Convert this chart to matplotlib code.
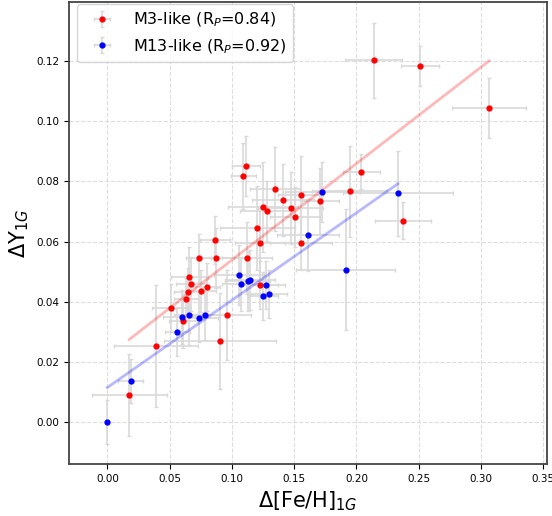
import numpy as np
import matplotlib
matplotlib.use('Agg')
import matplotlib.pyplot as plt

# M3-like clusters: dFe/H, dY, errors
m3_x = [0.2138, 0.2510, 0.3065, 0.2370, 0.2040, 0.1945, 0.1110, 0.1090, 0.1344,
        0.1411, 0.1553, 0.1711, 0.1247, 0.1285, 0.1472, 0.1507, 0.1204, 0.1228,
        0.1556, 0.0866, 0.0735, 0.0869, 0.1121, 0.0657, 0.0668, 0.0802, 0.0751,
        0.0644, 0.0631, 0.0507, 0.0611, 0.0957, 0.0904, 0.0389, 0.0175, 0.1223]
m3_y = [0.1203, 0.1184, 0.1043, 0.0670, 0.0833, 0.0767, 0.0852, 0.0817, 0.0776,
        0.0739, 0.0755, 0.0735, 0.0714, 0.0703, 0.0711, 0.0683, 0.0644, 0.0594,
        0.0594, 0.0604, 0.0544, 0.0544, 0.0544, 0.0483, 0.0458, 0.0449, 0.0437,
        0.0431, 0.0410, 0.0379, 0.0337, 0.0357, 0.0269, 0.0252, 0.0090, 0.0454]
m3_xerr = [0.023, 0.015, 0.0295, 0.0225, 0.0145, 0.030, 0.0113, 0.010, 0.020,
           0.025, 0.018, 0.015, 0.028, 0.022, 0.026, 0.020, 0.030, 0.020,
           0.025, 0.012, 0.010, 0.015, 0.020, 0.015, 0.012, 0.010, 0.012,
           0.011, 0.010, 0.015, 0.012, 0.020, 0.045, 0.0335, 0.030, 0.015]
m3_yerr = [0.0125, 0.0068, 0.0100, 0.0063, 0.0057, 0.0151, 0.0100, 0.0110, 0.0140,
           0.0120, 0.0130, 0.0110, 0.0150, 0.0100, 0.0120, 0.0100, 0.0140, 0.0120,
           0.0090, 0.0080, 0.0080, 0.0100, 0.0120, 0.0100, 0.0090, 0.0080, 0.0070,
           0.0080, 0.0070, 0.0080, 0.0090, 0.0150, 0.0160, 0.0202, 0.0137, 0.0080]

# M13-like clusters
m13_x = [0.0000, 0.0188, 0.0561, 0.0598, 0.0657, 0.0735, 0.0786, 0.1060, 0.1070,
         0.1126, 0.1146, 0.1274, 0.1250, 0.1295, 0.1610, 0.1727, 0.1912, 0.2333]
m13_y = [0.0000, 0.0136, 0.0298, 0.0349, 0.0357, 0.0346, 0.0354, 0.0489, 0.0459,
         0.0468, 0.0473, 0.0455, 0.0419, 0.0426, 0.0621, 0.0766, 0.0507, 0.0760]
m13_xerr = [0.000, 0.010, 0.010, 0.015, 0.012, 0.015, 0.012, 0.020, 0.015,
            0.018, 0.020, 0.015, 0.012, 0.015, 0.025, 0.030, 0.040, 0.0444]
m13_yerr = [0.0074, 0.0072, 0.0080, 0.0090, 0.0100, 0.0080, 0.0080, 0.0100, 0.0090,
            0.0100, 0.0100, 0.0080, 0.0080, 0.0080, 0.0120, 0.0100, 0.0200, 0.0141]

# linear fits (slope, intercept) as drawn
m3_fit = (0.3208, 0.0218)
m13_fit = (0.2906, 0.01144)

fig = plt.figure(figsize=(5.52, 5.16), dpi=100)
ax = fig.add_axes([0.1255, 0.0999, 0.8655, 0.8962])

ax.grid(True, linestyle='--', color='#dddddd', linewidth=0.8)
ax.set_axisbelow(True)

ax.errorbar(m3_x, m3_y, xerr=m3_xerr, yerr=m3_yerr, fmt='o', color='red',
            ms=3.5, ecolor='#d9d9d9', elinewidth=1.2, capsize=1.5,
            label=r'M3-like (R$_P$=0.84)')
ax.errorbar(m13_x, m13_y, xerr=m13_xerr, yerr=m13_yerr, fmt='o', color='blue',
            ms=3.5, ecolor='#d9d9d9', elinewidth=1.2, capsize=1.5,
            label=r'M13-like (R$_P$=0.92)')

xr = np.array([min(m3_x), max(m3_x)])
ax.plot(xr, m3_fit[0] * xr + m3_fit[1], color='red', alpha=0.28, lw=2)
xb = np.array([min(m13_x), max(m13_x)])
ax.plot(xb, m13_fit[0] * xb + m13_fit[1], color='blue', alpha=0.28, lw=2)

ax.set_xlim(-0.0306, 0.353)
ax.set_ylim(-0.01416, 0.1397)
ax.set_xticks(np.arange(0, 0.351, 0.05))
ax.set_yticks(np.arange(0, 0.121, 0.02))
ax.tick_params(labelsize=7.5, colors='black')
for s in ax.spines.values():
    s.set_color('#444444')
    s.set_linewidth(1.3)

ax.set_xlabel(r'$\Delta$[Fe/H]$_{1G}$', fontsize=15)
ax.set_ylabel(r'$\Delta$Y$_{1G}$', fontsize=15)
ax.legend(loc='upper left', fontsize=11.5, bbox_to_anchor=(0.0, 1.012),
          handlelength=2.3)

fig.savefig('out.png', dpi=100)
